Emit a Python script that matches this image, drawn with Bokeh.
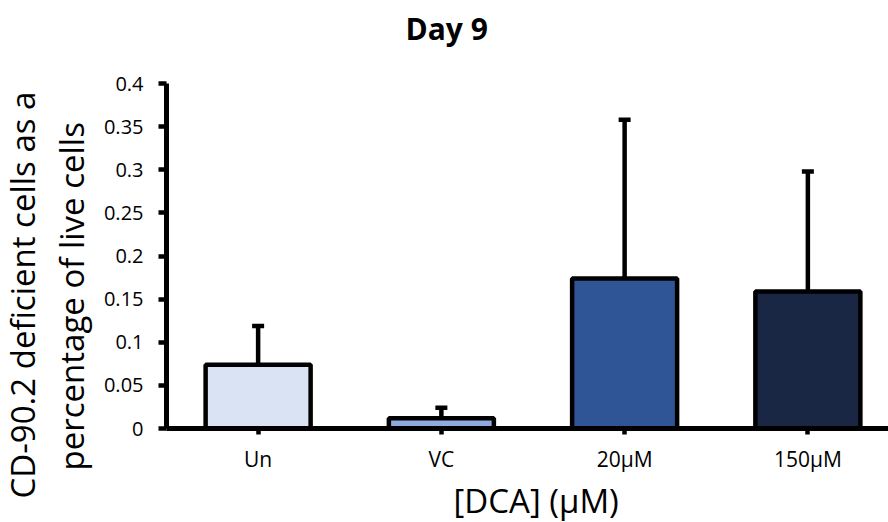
from bokeh.plotting import figure
from bokeh.models import (Range1d, FixedTicker, CustomJSTickFormatter, Whisker,
                          TeeHead, ColumnDataSource, Title)
from bokeh.embed import file_html
from bokeh.resources import INLINE

# DCA treatment groups, day 9
categories = ["Un", "VC", "20µM", "150µM"]
means = [0.074, 0.012, 0.174, 0.159]
errors = [0.045, 0.012, 0.184, 0.139]
colors = ["#DAE3F3", "#8FAADC", "#2F5597", "#1A2744"]
y_ticks = [0, 0.05, 0.1, 0.15, 0.2, 0.25, 0.3, 0.35, 0.4]

FONT = "Open Sans"
W, H = 888, 522

xs = list(range(len(categories)))
src = ColumnDataSource(dict(
    x=xs, top=means, color=colors,
    lower=means, upper=[m + e for m, e in zip(means, errors)],
))

# the frame reaches a little above 0.4 to leave room for the title panel;
# the y axis line itself stops at 0.4
p = figure(width=W, height=H, output_backend="svg", toolbar_location=None,
           x_range=Range1d(-0.5, 3.44), y_range=Range1d(0, 0.436),
           min_border_left=166, min_border_right=0,
           min_border_top=52, min_border_bottom=94)
p.outline_line_color = None
p.grid.visible = False
p.background_fill_color = "white"
p.border_fill_color = "white"

p.vbar(x="x", top="top", width=0.573, bottom=0, source=src,
       fill_color="color", line_color="black", line_width=4.5)

whisk = Whisker(base="x", lower="lower", upper="upper", source=src,
                line_color="black", line_width=4.5,
                lower_head=None,
                upper_head=TeeHead(size=12, line_color="black", line_width=4.5))
p.add_layout(whisk)

# y axis
ya = p.yaxis[0]
ya.ticker = FixedTicker(ticks=y_ticks)
ya.bounds = (0, 0.4)
ya.formatter = CustomJSTickFormatter(code="""
    return tick.toFixed(2).replace(/0+$/, '').replace(/\\.$/, '');
""")
ya.axis_line_width = 5
ya.axis_line_color = "black"
ya.major_tick_line_width = 4.5
ya.major_tick_out = 8
ya.major_tick_in = 0
ya.minor_tick_line_color = None
ya.major_label_text_font = FONT
ya.major_label_text_font_size = "20px"
ya.major_label_text_color = "black"
ya.major_label_standoff = 15

# x axis
xa = p.xaxis[0]
xa.ticker = FixedTicker(ticks=xs)
xa.major_label_overrides = {i: c for i, c in enumerate(categories)}
xa.axis_line_width = 5
xa.axis_line_color = "black"
xa.major_tick_line_width = 4.5
xa.major_tick_out = 6
xa.major_tick_in = 0
xa.minor_tick_line_color = None
xa.major_label_text_font = FONT
xa.major_label_text_font_size = "21px"
xa.major_label_text_color = "black"
xa.major_label_standoff = 10

# chart title
p.add_layout(Title(text="Day 9", align="left", offset=239, standoff=8,
                   text_font=FONT, text_font_size="30px",
                   text_font_style="bold", text_color="black"), "above")

# x axis title
p.add_layout(Title(text="[DCA] (µM)", align="left", offset=287, standoff=0,
                   text_font=FONT, text_font_size="33px",
                   text_font_style="normal", text_color="black"), "below")

# two-line y axis title, inner line first
p.add_layout(Title(text="percentage of live cells", align="left",
                   offset=-42, standoff=14,
                   text_font=FONT, text_font_size="33px",
                   text_font_style="normal", text_color="black"), "left")
p.add_layout(Title(text="CD-90.2 deficient cells as a", align="left",
                   offset=-70, standoff=-10,
                   text_font=FONT, text_font_size="33px",
                   text_font_style="normal", text_color="black"), "left")

open("out.html", "w").write(file_html(p, INLINE))
